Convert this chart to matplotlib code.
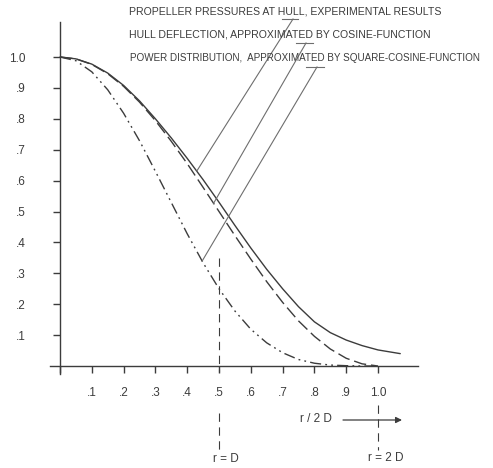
import matplotlib
matplotlib.use("Agg")
import matplotlib.pyplot as plt
import numpy as np

plt.rcParams['font.family'] = ['Liberation Sans', 'DejaVu Sans']
plt.rcParams['lines.scale_dashes'] = False

# ---- data ----
x_ticks = [0.1, 0.2, 0.3, 0.4, 0.5, 0.6, 0.7, 0.8, 0.9, 1.0]
x_tick_labels = ['.1', '.2', '.3', '.4', '.5', '.6', '.7', '.8', '.9', '1.0']
y_ticks = [0.1, 0.2, 0.3, 0.4, 0.5, 0.6, 0.7, 0.8, 0.9, 1.0]
y_tick_labels = ['.1', '.2', '.3', '.4', '.5', '.6', '.7', '.8', '.9', '1.0']

# propeller pressures at hull, experimental results (solid)
x_pressure = [0.0, 0.05, 0.1, 0.15, 0.2, 0.25, 0.3, 0.35, 0.4, 0.45, 0.5, 0.55,
              0.6, 0.65, 0.7, 0.75, 0.8, 0.85, 0.9, 0.95, 1.0, 1.07]
y_pressure = [1.0, 0.994, 0.977, 0.948, 0.908, 0.858, 0.80, 0.738, 0.672, 0.603, 0.53, 0.455,
              0.382, 0.313, 0.25, 0.192, 0.143, 0.108, 0.084, 0.066, 0.052, 0.04]

# hull deflection, approximated by cosine-function (dashed)
x_deflection = [0.0, 0.05, 0.1, 0.15, 0.2, 0.25, 0.3, 0.35, 0.4, 0.45, 0.5, 0.55,
                0.6, 0.65, 0.7, 0.75, 0.8, 0.85, 0.9, 0.95, 1.0]
y_deflection = [1.0, 0.994, 0.976, 0.946, 0.905, 0.854, 0.794, 0.727, 0.655, 0.578, 0.50, 0.422,
                0.346, 0.273, 0.206, 0.146, 0.096, 0.055, 0.025, 0.007, 0.0]

# power distribution, approximated by square-cosine-function (dash-dot-dot)
x_power = [0.0, 0.05, 0.1, 0.15, 0.2, 0.25, 0.3, 0.35, 0.4, 0.45, 0.5, 0.55,
           0.6, 0.65, 0.7, 0.75, 0.8, 0.85, 0.9, 0.95, 1.0]
y_power = [1.0, 0.988, 0.952, 0.894, 0.818, 0.729, 0.630, 0.529, 0.428, 0.334, 0.25, 0.178,
           0.119, 0.075, 0.043, 0.021, 0.009, 0.003, 0.001, 0.0, 0.0]

legend_texts = ["PROPELLER PRESSURES AT HULL, EXPERIMENTAL RESULTS",
                "HULL DEFLECTION, APPROXIMATED BY COSINE-FUNCTION",
                "POWER DISTRIBUTION,  APPROXIMATED BY SQUARE-COSINE-FUNCTION"]

# ---- layout helpers (pixel -> data) ----
W, H = 493, 468
X0, XS = 60.0, 318.0
Y0, YS = 366.0, 309.0


def px(x):
    return (x - X0) / XS


def py(y):
    return (Y0 - y) / YS


INK = '#3c3c3c'
LEAD = '#6e6e6e'

fig = plt.figure(figsize=(W / 100, H / 100), dpi=100)
ax = fig.add_axes([0, 0, 1, 1])
ax.set_xlim(px(0), px(W))
ax.set_ylim(py(H), py(0))

for s in ['top', 'right']:
    ax.spines[s].set_visible(False)
ax.spines['left'].set_position(('data', 0))
ax.spines['bottom'].set_position(('data', 0))
ax.spines['left'].set_bounds(py(374), py(22))
ax.spines['bottom'].set_bounds(px(50), px(418))
for s in ['left', 'bottom']:
    ax.spines[s].set_color(INK)
    ax.spines[s].set_linewidth(1.0)

ax.set_xticks([0.0] + x_ticks)
ax.set_xticklabels([''] + x_tick_labels)
ax.set_yticks(y_ticks)
ax.set_yticklabels(y_tick_labels)
ax.tick_params(axis='x', direction='out', length=5, width=1.0, color=INK,
               labelsize=8.5, labelcolor=INK, pad=10)
ax.tick_params(axis='y', direction='out', length=5, width=1.0, color=INK,
               labelsize=8.5, labelcolor=INK, pad=20)

# curves
ax.plot(x_pressure, y_pressure, color=INK, lw=1.0, solid_capstyle='round')
ax.plot(x_deflection, y_deflection, color=INK, lw=1.0, dashes=(9, 3.5))
ax.plot(x_power, y_power, color=INK, lw=1.0, dashes=(8, 3, 1.3, 3, 1.3, 3))

# legend texts with leader lines
text_pos = [(129, 11, 7.6), (129, 34, 7.6), (130, 58, 7.1)]
for t, (tx, ty, fs) in zip(legend_texts, text_pos):
    ax.text(px(tx), py(ty), t, fontsize=fs, color=INK, ha='left', va='center')

underlines = [((282, 298), 19), ((296, 313), 43), ((306, 324), 67)]
targets = [(x_pressure, y_pressure, 0.43), (x_deflection, y_deflection, 0.483),
           (x_power, y_power, 0.447)]
leader_tops = [(293, 19), (306, 43), (317, 67)]
for ((ua, ub), uy), (tx, ty), (xs, ys, xe) in zip(underlines, leader_tops, targets):
    ax.plot([px(ua), px(ub)], [py(uy), py(uy)], color=LEAD, lw=0.8)
    ye = float(np.interp(xe, xs, ys))
    ax.plot([px(tx), xe], [py(ty), ye], color=LEAD, lw=0.8)

# vertical reference lines r = D and r = 2D
vd = (6, 4)
ax.plot([0.5, 0.5], [py(258), py(372)], color=INK, lw=0.8, dashes=vd)
ax.plot([0.5, 0.5], [py(413), py(452)], color=INK, lw=0.8, dashes=vd)
ax.plot([1.0, 1.0], [py(405), py(450)], color=INK, lw=0.8, dashes=vd)
ax.text(px(226), py(459), "r = D", fontsize=8.5, color=INK, ha='center', va='center')
ax.text(px(386), py(458), "r = 2 D", fontsize=8.5, color=INK, ha='center', va='center')

# axis caption with arrow
ax.text(px(316), py(419), "r / 2 D", fontsize=8.5, color=INK, ha='center', va='center')
ax.annotate('', xy=(px(402), py(420)), xytext=(px(343), py(420)),
            arrowprops=dict(arrowstyle='-|>', color=INK, lw=0.9,
                            mutation_scale=9, shrinkA=0, shrinkB=0))

fig.savefig('out.png', dpi=100, facecolor='white')
